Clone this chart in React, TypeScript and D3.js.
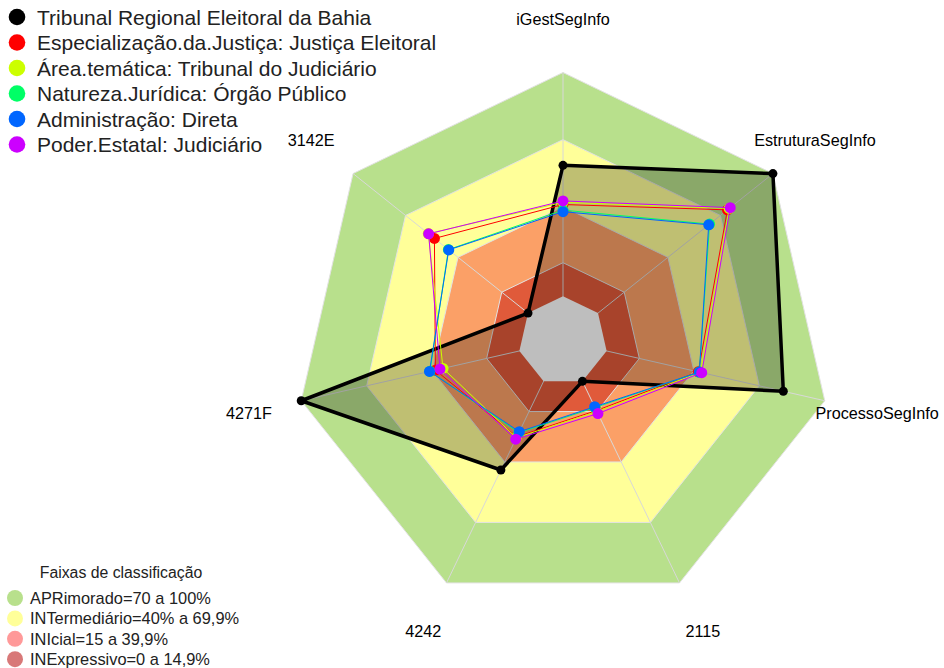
import React from "react";
import * as d3 from "d3";

const axes = ["iGestSegInfo", "EstruturaSegInfo", "ProcessoSegInfo", "2115", "4242", "4271F", "3142E"];

const seriesNames = [
  "Tribunal Regional Eleitoral da Bahia",
  "Especialização.da.Justiça: Justiça Eleitoral",
  "Área.temática: Tribunal do Judiciário",
  "Natureza.Jurídica: Órgão Público",
  "Administração: Direta",
  "Poder.Estatal: Judiciário",
];
const seriesColors = ["#000000", "#ff0000", "#ccff00", "#00ff66", "#0066ff", "#cc00ff"];

// percent values per axis
const tribunal = [58.5, 100, 81, 0, 44, 100, 0];
const especializacao = [41, 74, 42, 14.5, 27.5, 38.5, 53.5];
const areaTematica = [42, 75, 43, 15, 28, 35, 57];
const natureza = [38.5, 63.8, 42.5, 13, 25.5, 41, 45.5];
const administracao = [37.8, 63.3, 42.5, 12.6, 25, 41.2, 45.3];
const poderEstatal = [42.6, 75.6, 43.6, 16, 28.7, 36.4, 56.8];
const seriesValues = [tribunal, especializacao, areaTematica, natureza, administracao, poderEstatal];

// classification bands
const bandNames = [
  "APRimorado=70 a 100%",
  "INTermediário=40% a 69,9%",
  "INIcial=15 a 39,9%",
  "INExpressivo=0 a 14,9%",
];
const bandTops = [100, 70, 40, 15];
const bandFills = ["#b8e08c", "#ffff99", "#fba067", "#e05a3a"];
const bandLegendFills = ["#b8e08c", "#ffff99", "#ff9999", "#d87878"];

const W = 944;
const H = 668;
const cx = 563;
const cy = 341;
const R = 268.5;
const font = "'Liberation Sans', Arial, sans-serif";

export default function App() {
  const r = d3.scaleLinear().domain([0, 100]).range([R / 6, R]);
  const angle = d3
    .scaleLinear()
    .domain([0, axes.length])
    .range([0, 2 * Math.PI]);

  const radial = d3
    .lineRadial<number>()
    .angle((_, i) => angle(i))
    .radius((v) => r(v))
    .curve(d3.curveLinearClosed);

  const ring = (v: number) => radial(axes.map(() => v)) as string;
  const pt = (v: number, i: number) => {
    const a = angle(i) - Math.PI / 2;
    return [r(v) * Math.cos(a), r(v) * Math.sin(a)];
  };

  return (
    <svg width={W} height={H} style={{ position: "absolute", left: 0, top: 0, background: "#fff" }}>
      <g transform={`translate(${cx},${cy})`}>
        {bandTops.map((t, i) => (
          <path key={"b" + i} d={ring(t)} fill={bandFills[i]} />
        ))}
        {[100, 70, 40, 15].map((t) => (
          <path key={"g" + t} d={ring(t)} fill="none" stroke="#e2e2e2" strokeWidth={1} />
        ))}
        {axes.map((_, i) => {
          const [x, y] = pt(100, i);
          return <line key={"a" + i} x1={0} y1={0} x2={x} y2={y} stroke="#d8d8d8" strokeWidth={1} />;
        })}
        <path d={radial(tribunal) as string} fill="#000" fillOpacity={0.25} stroke="none" />
        <path d={ring(0)} fill="#bebebe" />

        {seriesValues.map((vals, s) => (
          <g key={"s" + s}>
            <path
              d={radial(vals) as string}
              fill="none"
              stroke={seriesColors[s]}
              strokeWidth={s === 0 ? 3.5 : 1}
              strokeLinejoin="round"
            />
            {vals.map((v, i) => {
              const [x, y] = pt(v, i);
              return <circle key={i} cx={x} cy={y} r={s === 0 ? 4.5 : 5.5} fill={seriesColors[s]} />;
            })}
          </g>
        ))}

        {axes.map((name, i) => {
          const a = angle(i) - Math.PI / 2;
          const d = R * 1.2;
          return (
            <text
              key={"l" + i}
              x={d * Math.cos(a)}
              y={d * Math.sin(a)}
              textAnchor="middle"
              dominantBaseline="central"
              fontFamily={font}
              fontSize={16.2}
              fill="#000"
            >
              {name}
            </text>
          );
        })}
      </g>

      <g>
        {seriesNames.map((name, i) => (
          <g key={"lg" + i} transform={`translate(17,${17 + i * 25.5})`}>
            <circle r={8.3} fill={seriesColors[i]} />
            <text x={20} dominantBaseline="central" fontFamily={font} fontSize={21} fill="#222">
              {name}
            </text>
          </g>
        ))}
      </g>

      <g>
        <text x={121} y={572} textAnchor="middle" dominantBaseline="central" fontFamily={font} fontSize={15.8} fill="#222">
          Faixas de classificação
        </text>
        {bandNames.map((name, i) => (
          <g key={"bl" + i} transform={`translate(15,${598 + i * 20.4})`}>
            <circle r={8} fill={bandLegendFills[i]} />
            <text x={15} dominantBaseline="central" fontFamily={font} fontSize={16.4} fill="#222">
              {name}
            </text>
          </g>
        ))}
      </g>
    </svg>
  );
}
